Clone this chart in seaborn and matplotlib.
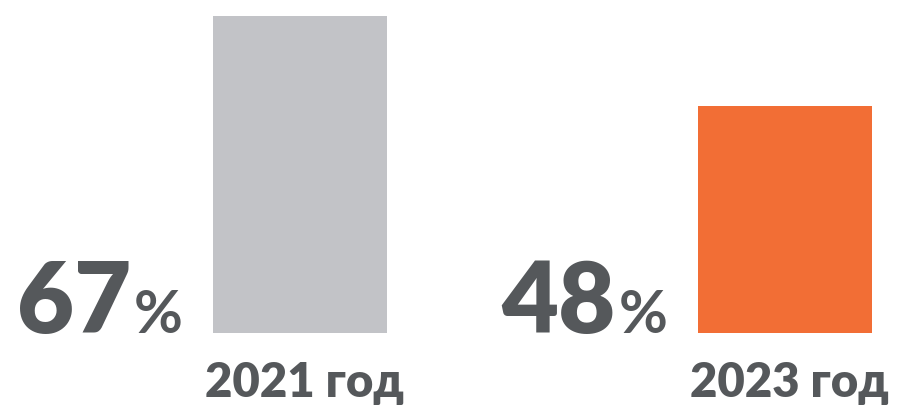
import matplotlib
matplotlib.use("Agg")
import matplotlib.pyplot as plt
import seaborn as sns
import pandas as pd

years = ["2021 год", "2023 год"]
values = [67, 48]
value_labels = ["67", "48"]
colors = ["#c2c3c7", "#f26e35"]

sns.set_theme(style="white")
plt.rcParams["font.family"] = ["Lato", "DejaVu Sans"]

TEXT = "#55585b"
DPI = 100
W, H = 906, 405
base_px = 333          # bar baseline (px from top)
k = 4.73               # px per percent
c0, c1 = 300, 785      # bar centres in px
bw = 174 / (c1 - c0)

fig = plt.figure(figsize=(W / DPI, H / DPI), dpi=DPI)
ax = fig.add_axes([0, (H - base_px) / H, 1, base_px / H])

df = pd.DataFrame({"year": years, "value": values})
sns.barplot(data=df, x="year", y="value", hue="year", palette=colors,
            width=bw, saturation=1, legend=False, ax=ax, edgecolor="none")

ax.set_xlim((0 - c0) / (c1 - c0), (W - c0) / (c1 - c0))
ax.set_ylim(0, base_px / k)
ax.axis("off")

px = 0.72  # points per pixel
for i, (lab, yr) in enumerate(zip(value_labels, years)):
    left = i - bw / 2
    ax.annotate("%", xy=(left, 0), xytext=(-30 * px, 0), textcoords="offset points",
                ha="right", va="baseline", fontsize=43, fontweight="bold",
                color=TEXT, annotation_clip=False)
    ax.annotate(lab, xy=(left, 0), xytext=(-82 * px, 0), textcoords="offset points",
                ha="right", va="baseline", fontsize=71, fontweight="heavy",
                color=TEXT, annotation_clip=False)
    ax.annotate(yr, xy=(left, 0), xytext=(-8 * px, -64 * px), textcoords="offset points",
                ha="left", va="baseline", fontsize=34, fontweight="heavy",
                color=TEXT, annotation_clip=False)

fig.savefig("out.png", dpi=DPI, facecolor="white")
